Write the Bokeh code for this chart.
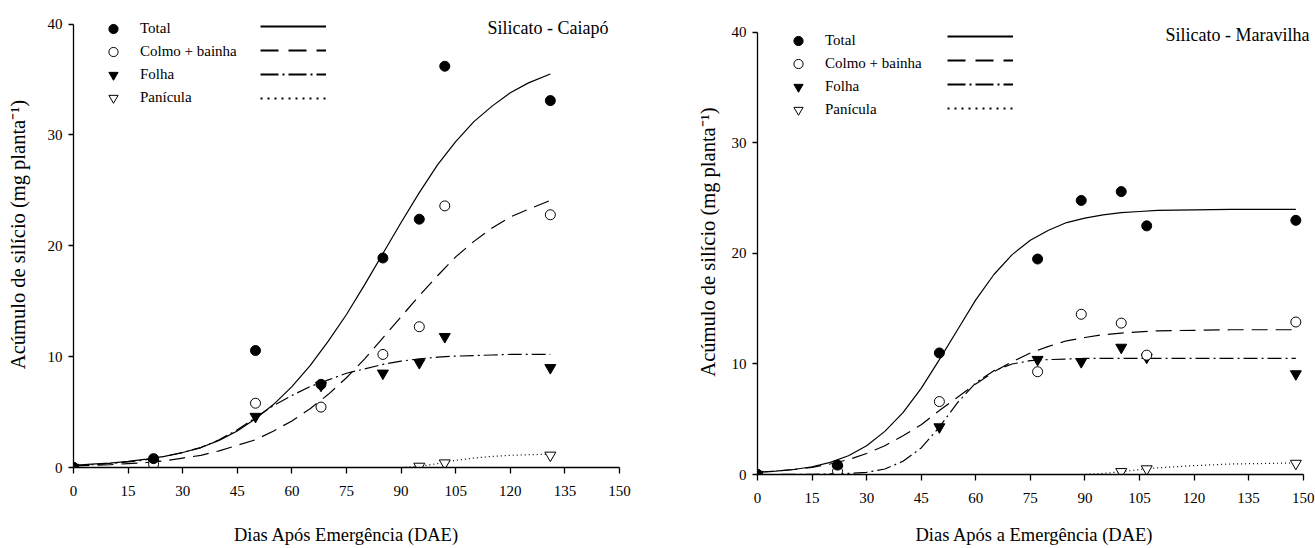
from bokeh.plotting import figure
from bokeh.layouts import row, column
from bokeh.models import Range1d, Legend, LegendItem, Label, FixedTicker, ColumnDataSource, Spacer
from bokeh.embed import file_html
from bokeh.resources import INLINE

FONT = "Liberation Serif"

x_ticks = [0, 15, 30, 45, 60, 75, 90, 105, 120, 135, 150]
y_ticks = [0, 10, 20, 30, 40]
series_names = ["Total", "Colmo + bainha", "Folha", "Panícula"]

# ---------------- Silicato - Caiapó ----------------
cai_days = [0, 22, 50, 68, 85, 95, 102, 131]
cai_total = [0.0, 0.8, 10.55, 7.5, 18.9, 22.4, 36.2, 33.1]
cai_colmo = [0.0, 0.3, 5.8, 5.45, 10.2, 12.7, 23.6, 22.8]
cai_folha = [0.0, 0.4, 4.6, 7.4, 8.5, 9.45, 11.8, 9.0]
cai_pan_days = [95, 102, 131]
cai_pan = [0.1, 0.4, 1.1]

cai_fit_days = [0, 5, 10, 15, 20, 25, 30, 35, 40, 45, 50, 55, 60, 65, 70, 75, 80, 85, 90, 95, 100, 105, 110, 115, 120, 125, 131]
cai_fit_total = [0.2, 0.3, 0.4, 0.55, 0.75, 1.0, 1.35, 1.8, 2.45, 3.3, 4.4, 5.7, 7.3, 9.2, 11.4, 13.8, 16.5, 19.3, 22.1, 24.8, 27.3, 29.4, 31.2, 32.6, 33.8, 34.7, 35.5]
cai_fit_colmo = [0.15, 0.2, 0.25, 0.35, 0.45, 0.6, 0.85, 1.1, 1.5, 2.0, 2.5, 3.3, 4.2, 5.3, 6.6, 8.1, 9.8, 11.7, 13.6, 15.5, 17.3, 19.0, 20.4, 21.6, 22.6, 23.3, 24.1]
cai_fit_folha = [0.15, 0.25, 0.35, 0.5, 0.7, 1.0, 1.35, 1.8, 2.5, 3.4, 4.5, 5.6, 6.5, 7.3, 7.9, 8.5, 8.9, 9.3, 9.6, 9.8, 9.95, 10.05, 10.1, 10.15, 10.2, 10.2, 10.2]
cai_fit_pan = [0, 0, 0, 0, 0, 0, 0, 0, 0, 0, 0, 0, 0, 0, 0, 0, 0, 0, 0.0, 0.1, 0.35, 0.65, 0.85, 1.0, 1.1, 1.15, 1.2]

# ---------------- Silicato - Maravilha ----------------
mar_days = [0, 22, 50, 77, 89, 100, 107, 148]
mar_total = [0.0, 0.85, 11.0, 19.5, 24.8, 25.6, 22.5, 23.0]
mar_colmo = [0.0, 0.3, 6.6, 9.3, 14.5, 13.7, 10.8, 13.8]
mar_folha = [0.0, 0.5, 4.3, 10.4, 10.2, 11.5, 10.6, 9.1]
mar_pan_days = [100, 107, 148]
mar_pan = [0.25, 0.5, 1.0]

mar_fit_days = [0, 5, 10, 15, 20, 25, 30, 35, 40, 45, 50, 55, 60, 65, 70, 75, 80, 85, 90, 95, 100, 105, 110, 120, 130, 140, 148]
mar_fit_total = [0.2, 0.3, 0.45, 0.7, 1.1, 1.7, 2.6, 3.9, 5.6, 7.8, 10.4, 13.1, 15.8, 18.1, 19.9, 21.2, 22.1, 22.8, 23.2, 23.5, 23.7, 23.8, 23.9, 23.95, 24.0, 24.0, 24.0]
mar_fit_colmo = [0.2, 0.3, 0.45, 0.65, 0.95, 1.35, 1.9, 2.6, 3.5, 4.5, 5.8, 7.0, 8.2, 9.3, 10.2, 11.0, 11.6, 12.1, 12.4, 12.65, 12.8, 12.9, 13.0, 13.05, 13.1, 13.1, 13.1]
mar_fit_folha = [0.0, 0.0, 0.01, 0.02, 0.05, 0.1, 0.2, 0.5, 1.2, 2.4, 4.3, 6.5, 8.3, 9.4, 10.0, 10.3, 10.4, 10.45, 10.5, 10.5, 10.5, 10.5, 10.5, 10.5, 10.5, 10.5, 10.5]
mar_fit_pan = [0, 0, 0, 0, 0, 0, 0, 0, 0, 0, 0, 0, 0, 0, 0, 0, 0, 0, 0.0, 0.1, 0.25, 0.45, 0.6, 0.8, 0.95, 1.0, 1.05]

LINE_STYLES = ["solid", "16 8", "14 4 2 4", "1 3"]
LEG_LINE_STYLES = ["solid", "18 10", "18 4 2 4", "2 5"]


def make_panel(title, xtitle, days, vals, pan_days, pan_vals, fit_days, fits,
               width, height, bl, br, bt, bb, x_end, y_end, ylab_standoff, xlab_standoff,
               leg_pos, line_leg_pos, title_pos):
    p = figure(width=width, height=height, output_backend="svg", toolbar_location=None,
               x_range=Range1d(0, x_end), y_range=Range1d(0, y_end),
               min_border_left=bl, min_border_right=br, min_border_top=bt, min_border_bottom=bb)
    p.outline_line_color = None
    p.grid.visible = False
    p.background_fill_color = "white"
    p.border_fill_color = "white"

    for ax, ticks in ((p.xaxis, x_ticks), (p.yaxis, y_ticks)):
        ax.ticker = FixedTicker(ticks=ticks)
        ax.bounds = (ticks[0], ticks[-1])
        ax.minor_tick_line_color = None
        ax.major_tick_in = 0
        ax.major_tick_out = 6
        ax.axis_line_width = 1.3
        ax.major_tick_line_width = 1.3
        ax.axis_line_color = "black"
        ax.major_tick_line_color = "black"
        ax.major_label_text_font = FONT
        ax.major_label_text_font_size = "15px"
        ax.major_label_text_color = "black"
        ax.axis_label_text_font = FONT
        ax.axis_label_text_font_style = "normal"
        ax.axis_label_text_color = "black"
    p.xaxis.axis_label = xtitle
    p.yaxis.axis_label = "Acúmulo de silício (mg planta⁻¹)"
    p.xaxis.axis_label_text_font_size = "18.5px"
    p.yaxis.axis_label_text_font_size = "20.5px"
    p.xaxis.major_label_standoff = 12
    p.xaxis.axis_label_standoff = xlab_standoff
    p.yaxis.major_tick_out = 5
    p.yaxis.major_label_standoff = 6
    p.yaxis.axis_label_standoff = ylab_standoff

    # fitted curves
    for f, dash in zip(fits, LINE_STYLES):
        p.line(fit_days, f, line_color="black", line_width=1.2, line_dash=dash)

    # points
    src = ColumnDataSource(dict(d=days, t=vals[0], c=vals[1], f=vals[2]))
    psrc = ColumnDataSource(dict(d=pan_days, v=pan_vals))
    r_pan = p.scatter("d", "v", source=psrc, marker="inverted_triangle", size=11,
                      fill_color="white", line_color="black", line_width=1)
    r_f = p.scatter("d", "f", source=src, marker="inverted_triangle", size=11,
                    fill_color="black", line_color="black")
    r_c = p.scatter("d", "c", source=src, marker="circle", size=10,
                    fill_color="white", line_color="black", line_width=1)
    r_t = p.scatter("d", "t", source=src, marker="circle", size=10,
                    fill_color="black", line_color="black")

    # legend: markers with labels
    mk_items = [LegendItem(label=n, renderers=[r]) for n, r in zip(series_names, [r_t, r_c, r_f, r_pan])]
    leg = Legend(items=mk_items, location=leg_pos, orientation="vertical",
                 glyph_width=24, glyph_height=23, label_height=20, spacing=0,
                 label_standoff=15, padding=0, margin=0,
                 label_text_font=FONT, label_text_font_size="15px", label_text_color="black",
                 border_line_color=None, background_fill_alpha=0)
    p.add_layout(leg)

    # legend: line samples (hidden copies of the fitted curves, styled as in the key)
    line_items = []
    for f, dash in zip(fits, LEG_LINE_STYLES):
        lr = p.line(fit_days, f, line_color="black", line_width=2.2, line_dash=dash, visible=False)
        line_items.append(LegendItem(label=" ", renderers=[lr]))
    leg2 = Legend(items=line_items, location=line_leg_pos, orientation="vertical",
                  glyph_width=66, glyph_height=20, label_height=20, label_width=0,
                  spacing=4, label_standoff=0, padding=0, margin=0,
                  label_text_font_size="2px",
                  border_line_color=None, background_fill_alpha=0)
    p.add_layout(leg2)

    p.add_layout(Label(x=title_pos[0], y=title_pos[1], x_units="screen", y_units="screen",
                       text=title, text_font=FONT, text_font_size="18px", text_color="black",
                       text_align="right", text_baseline="middle"))
    return p


# left: frame 73 -> 619 (x), 1 -> 467 (y)
p1 = make_panel("Silicato - Caiapó", "Dias Após Emergência (DAE)",
                cai_days, [cai_total, cai_colmo, cai_folha], cai_pan_days, cai_pan,
                cai_fit_days, [cai_fit_total, cai_fit_colmo, cai_fit_folha, cai_fit_pan],
                width=660, height=548, bl=73, br=41, bt=1, bb=81, x_end=150, y_end=42.04,
                ylab_standoff=16, xlab_standoff=26,
                leg_pos=(28, 358), line_leg_pos=(187, 359), title_pos=(535, 440))
# right: figure placed 8 px lower; frame 757 -> 1311 (x), 9 -> 474 (y)
p2 = make_panel("Silicato - Maravilha", "Dias Após a Emergência (DAE)",
                mar_days, [mar_total, mar_colmo, mar_folha], mar_pan_days, mar_pan,
                mar_fit_days, [mar_fit_total, mar_fit_colmo, mar_fit_folha, mar_fit_pan],
                width=655, height=540, bl=97, br=4, bt=1, bb=74, x_end=152.3, y_end=42.08,
                ylab_standoff=10, xlab_standoff=19,
                leg_pos=(29, 353), line_leg_pos=(190, 356), title_pos=(552, 440))

layout = row(column(p1), column(Spacer(width=655, height=8), p2), spacing=0)
open("out.html", "w").write(file_html(layout, INLINE))
